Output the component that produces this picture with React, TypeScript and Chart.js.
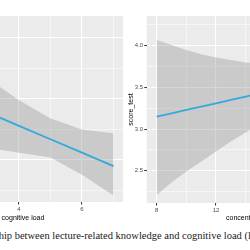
import React, { useEffect, useRef } from "react";
import { Chart, registerables } from "chart.js";

Chart.register(...registerables);

// Left panel: score against cognitive load (fitted line with confidence band)
const loadX = [1, 2, 3, 4, 5, 6, 7];
const loadFit = [3.6, 3.5, 3.39, 3.28, 3.17, 3.06, 2.95];
const loadUpper = [4.07, 3.88, 3.67, 3.49, 3.34, 3.25, 3.22];
const loadLower = [3.14, 3.12, 3.1, 3.06, 3.02, 2.88, 2.71];

// Right panel: score against concentration
const concX = [8, 9, 10, 11, 12, 13, 14, 15, 16, 17, 18, 19, 20];
const concFit = [3.15, 3.19, 3.23, 3.27, 3.31, 3.35, 3.39, 3.43, 3.47, 3.51, 3.55, 3.59, 3.63];
const concUpper = [4.07, 4.01, 3.95, 3.9, 3.86, 3.83, 3.8, 3.79, 3.8, 3.82, 3.85, 3.89, 3.94];
const concLower = [2.21, 2.36, 2.49, 2.61, 2.73, 2.85, 2.96, 3.06, 3.13, 3.19, 3.24, 3.28, 3.31];

const yTitle = "score_test";
const leftXTitle = "cognitive load";
const rightXTitle = "concentration";
const caption =
  "Relationship between lecture-related knowledge and cognitive load (left) and concentration (right)";

const SANS = "'Liberation Sans', Arial, sans-serif";
const PANEL_BG = "#EBEBEB";
const BAND = "rgba(153,153,153,0.4)";
const LINE = "#33A9DC";

const panelBackground = {
  id: "panelBackground",
  beforeDraw(chart: any) {
    const { ctx, chartArea: a } = chart;
    ctx.save();
    ctx.fillStyle = PANEL_BG;
    ctx.fillRect(a.left, a.top, a.right - a.left, a.bottom - a.top);
    ctx.restore();
  },
};

const isMultiple = (v: number, step: number) =>
  Math.abs(v / step - Math.round(v / step)) < 1e-6;

function gridFor(major: (v: number) => boolean, tickLength: number) {
  return {
    color: "#FFFFFF",
    lineWidth: (c: any) => (c.tick && major(c.tick.value) ? 1.1 : 0.55),
    drawTicks: true,
    tickLength,
    tickColor: (c: any) => (c.tick && major(c.tick.value) ? "#333333" : "rgba(0,0,0,0)"),
    tickWidth: (c: any) => (c.tick && major(c.tick.value) ? 1 : 0),
  };
}

function toPoints(xs: number[], ys: number[]) {
  return xs.map((x, i) => ({ x, y: ys[i] }));
}

function makeDatasets(xs: number[], fit: number[], upper: number[], lower: number[]) {
  return [
    {
      data: toPoints(xs, fit),
      borderColor: LINE,
      borderWidth: 1.8,
      pointRadius: 0,
      fill: false,
      tension: 0,
    },
    {
      data: toPoints(xs, upper),
      borderWidth: 0,
      borderColor: "rgba(0,0,0,0)",
      pointRadius: 0,
      fill: false,
    },
    {
      data: toPoints(xs, lower),
      borderWidth: 0,
      borderColor: "rgba(0,0,0,0)",
      backgroundColor: BAND,
      pointRadius: 0,
      fill: "-1",
    },
  ];
}

function leftConfig(): any {
  const xMajor = (v: number) => isMultiple(v, 2);
  const yMajor = (v: number) => isMultiple(v, 0.5);
  return {
    type: "line",
    data: { datasets: makeDatasets(loadX, loadFit, loadUpper, loadLower) },
    options: {
      animation: false,
      responsive: false,
      events: [],
      layout: { padding: { left: 0, right: 2, top: 16, bottom: 0 } },
      plugins: { legend: { display: false }, tooltip: { enabled: false } },
      scales: {
        x: {
          type: "linear",
          min: 0.952,
          max: 7.302,
          border: { display: false },
          grid: gridFor(xMajor, 2.5),
          afterFit: (s: any) => {
            s.height = 28;
          },
          ticks: {
            stepSize: 1,
            includeBounds: false,
            autoSkip: false,
            maxRotation: 0,
            padding: 1,
            color: "#4D4D4D",
            font: { family: SANS, size: 6 },
            callback: (v: any) => (xMajor(Number(v)) ? String(v) : ""),
          },
          title: {
            display: true,
            text: leftXTitle,
            color: "#000000",
            font: { family: SANS, size: 7 },
            padding: { top: 0, bottom: 7.8 },
          },
        },
        y: {
          type: "linear",
          min: 2.656,
          max: 4.18,
          border: { display: false },
          grid: gridFor(yMajor, 2.5),
          afterFit: (s: any) => {
            s.width = 15;
          },
          ticks: {
            stepSize: 0.25,
            includeBounds: false,
            display: false,
          },
        },
      },
    },
    plugins: [panelBackground],
  };
}

function rightConfig(): any {
  const xMajor = (v: number) => isMultiple(v, 4);
  const yMajor = (v: number) => isMultiple(v, 0.5);
  return {
    type: "line",
    data: { datasets: makeDatasets(concX, concFit, concUpper, concLower) },
    options: {
      animation: false,
      responsive: false,
      events: [],
      layout: { padding: { left: 0, right: 2.7, top: 16, bottom: 0 } },
      plugins: { legend: { display: false }, tooltip: { enabled: false } },
      scales: {
        x: {
          type: "linear",
          min: 7.326,
          max: 20.85,
          border: { display: false },
          grid: gridFor(xMajor, 2.5),
          afterFit: (s: any) => {
            s.height = 27;
          },
          ticks: {
            stepSize: 2,
            includeBounds: false,
            autoSkip: false,
            maxRotation: 0,
            padding: 1,
            color: "#4D4D4D",
            font: { family: SANS, size: 6 },
            callback: (v: any) => (xMajor(Number(v)) ? String(v) : ""),
          },
          title: {
            display: true,
            text: rightXTitle,
            color: "#000000",
            font: { family: SANS, size: 7 },
            padding: { top: 0, bottom: 7.8 },
          },
        },
        y: {
          type: "linear",
          min: 2.113,
          max: 4.358,
          border: { display: false },
          grid: gridFor(yMajor, 2.5),
          afterFit: (s: any) => {
            s.width = 46.7;
          },
          ticks: {
            stepSize: 0.25,
            includeBounds: false,
            autoSkip: false,
            padding: 1,
            color: "#4D4D4D",
            font: { family: SANS, size: 6 },
            callback: (v: any) => (yMajor(Number(v)) ? Number(v).toFixed(1) : ""),
          },
          title: {
            display: true,
            text: yTitle,
            color: "#000000",
            font: { family: SANS, size: 7 },
            padding: { top: 26.8, bottom: 0 },
          },
        },
      },
    },
    plugins: [panelBackground],
  };
}

export default function App() {
  const leftRef = useRef<HTMLCanvasElement | null>(null);
  const rightRef = useRef<HTMLCanvasElement | null>(null);

  useEffect(() => {
    const charts: Chart[] = [];
    if (leftRef.current) charts.push(new Chart(leftRef.current, leftConfig()));
    if (rightRef.current) charts.push(new Chart(rightRef.current, rightConfig()));
    return () => charts.forEach((c) => c.destroy());
  }, []);

  return (
    <div
      style={{
        position: "fixed",
        left: 0,
        top: 0,
        width: 250,
        height: 250,
        overflow: "hidden",
        background: "#FFFFFF",
      }}
    >
      <canvas
        ref={leftRef}
        width={217}
        height={230}
        style={{ position: "absolute", left: -92, top: 0, width: 217, height: 230 }}
      />
      <canvas
        ref={rightRef}
        width={250}
        height={230}
        style={{ position: "absolute", left: 100, top: 0, width: 250, height: 230 }}
      />
      <div
        style={{
          position: "absolute",
          left: -41,
          top: 230,
          whiteSpace: "nowrap",
          fontFamily: "'Liberation Serif', 'Times New Roman', serif",
          fontSize: 10.5,
          lineHeight: "12px",
          color: "#1A1A1A",
        }}
      >
        {caption}
      </div>
    </div>
  );
}
